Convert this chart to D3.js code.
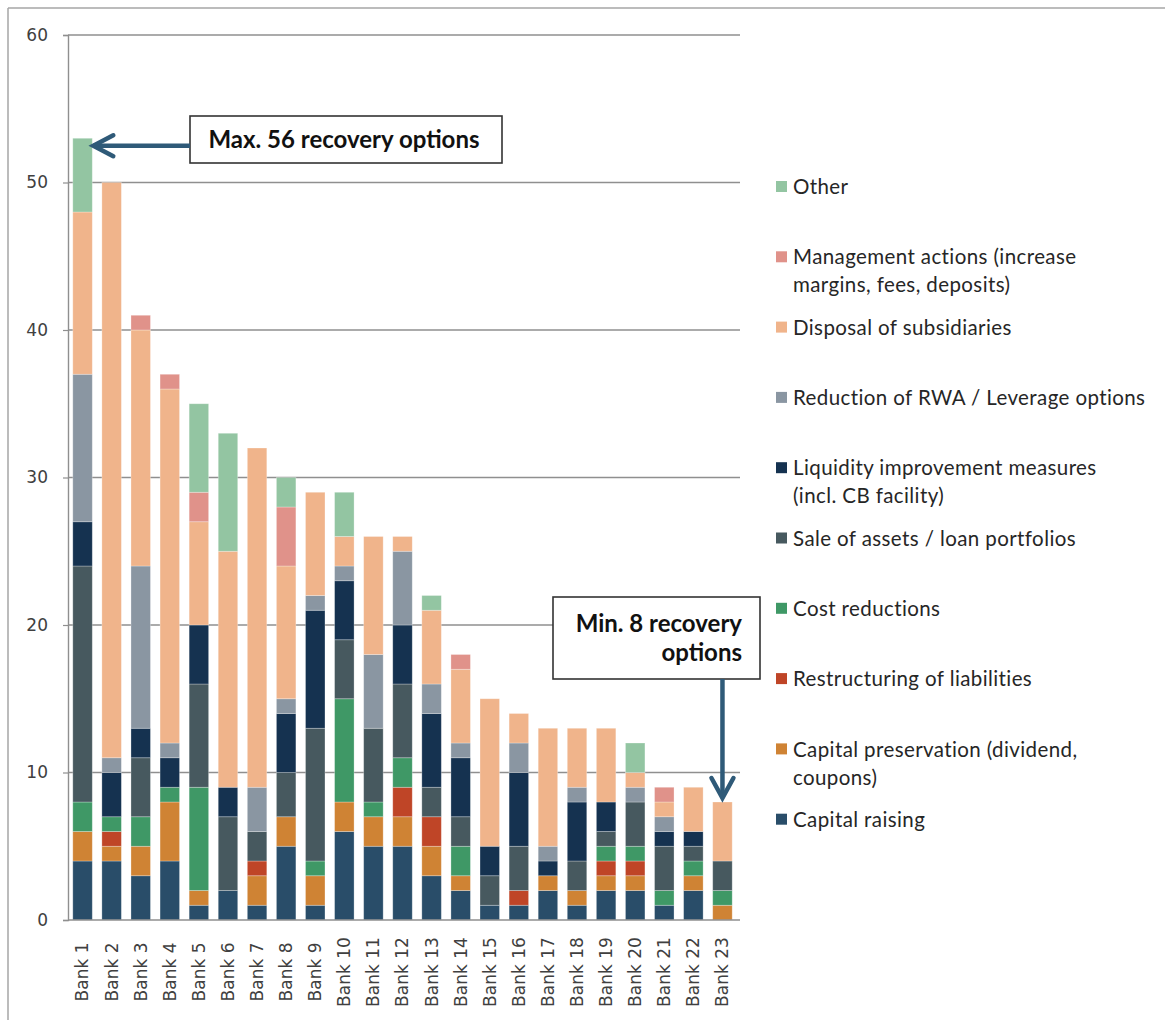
<!DOCTYPE html>
<html>
<head>
<meta charset="utf-8">
<script src="https://cdn.jsdelivr.net/npm/d3@7"></script>
<style>
  html, body { margin: 0; padding: 0; background: #ffffff; }
  svg { display: block; }
</style>
</head>
<body>
<svg id="chart" width="1165" height="1020"></svg>
<script>
// ---------------- DATA ----------------
const banks = ["Bank 1","Bank 2","Bank 3","Bank 4","Bank 5","Bank 6","Bank 7","Bank 8","Bank 9","Bank 10",
  "Bank 11","Bank 12","Bank 13","Bank 14","Bank 15","Bank 16","Bank 17","Bank 18","Bank 19","Bank 20",
  "Bank 21","Bank 22","Bank 23"];

const capitalRaising      = [4,4,3,4,1,2,1,5,1,6,5,5,3,2,1,1,2,1,2,2,1,2,0];
const capitalPreservation = [2,1,2,4,1,0,2,2,2,2,2,2,2,1,0,0,1,1,1,1,0,1,1];
const restructuring       = [0,1,0,0,0,0,1,0,0,0,0,2,2,0,0,1,0,0,1,1,0,0,0];
const costReductions      = [2,1,2,1,7,0,0,0,1,7,1,2,0,2,0,0,0,0,1,1,1,1,1];
const saleOfAssets        = [16,0,4,0,7,5,2,3,9,4,5,5,2,2,2,3,0,2,1,3,3,1,2];
const liquidity           = [3,3,2,2,4,2,0,4,8,4,0,4,5,4,2,5,1,4,2,0,1,1,0];
const rwaReduction        = [10,1,11,1,0,0,3,1,1,1,5,5,2,1,0,2,1,1,0,1,1,0,0];
const disposal            = [11,39,16,24,7,16,23,9,7,2,8,1,5,5,10,2,8,4,5,1,1,3,4];
const management          = [0,0,1,1,2,0,0,4,0,0,0,0,0,1,0,0,0,0,0,0,1,0,0];
const other               = [5,0,0,0,6,8,0,2,0,3,0,0,1,0,0,0,0,0,0,2,0,0,0];

const yTicks = [0,10,20,30,40,50,60];

// series bottom -> top
const seriesKeys   = ["cr","cp","rl","cost","sale","liq","rwa","disp","mgmt","other"];
const seriesValues = [capitalRaising, capitalPreservation, restructuring, costReductions, saleOfAssets,
                      liquidity, rwaReduction, disposal, management, other];
const seriesLabels = [
  ["Capital raising"],
  ["Capital preservation (dividend,", "coupons)"],
  ["Restructuring of liabilities"],
  ["Cost reductions"],
  ["Sale of assets / loan portfolios"],
  ["Liquidity improvement measures", "(incl. CB facility)"],
  ["Reduction of RWA / Leverage options"],
  ["Disposal of subsidiaries"],
  ["Management actions (increase", "margins, fees, deposits)"],
  ["Other"]
];
const seriesColors = ["#294d69","#cf8334","#bf4527","#3f9866","#47595f","#153250","#8a96a2","#f0b48b","#e0928a","#93c5a2"];

const maxLabel = "Max. 56 recovery options";
const minLabel = ["Min. 8 recovery", "options"];

// ---------------- BUILD ----------------
const table = banks.map((b, i) => {
  const row = { bank: b };
  seriesKeys.forEach((k, j) => row[k] = seriesValues[j][i]);
  return row;
});
const stacked = d3.stack().keys(seriesKeys)(table);
const color = d3.scaleOrdinal().domain(seriesKeys).range(seriesColors);

const svg = d3.select("#chart");
const plotLeft = 68, plotRight = 740, plotTop = 35, plotBottom = 920;

const x = d3.scaleBand().domain(banks).range([68, 737]).paddingInner(0.33).paddingOuter(0.165);
const y = d3.scaleLinear().domain([0, 60]).range([plotBottom, plotTop]);

// outer frame (partial, as in the picture)
svg.append("line").attr("x1", 8).attr("x2", 1165).attr("y1", 8).attr("y2", 8)
  .attr("stroke", "#a6a6a6").attr("stroke-width", 1.5);
svg.append("line").attr("x1", 8).attr("x2", 8).attr("y1", 8).attr("y2", 1020)
  .attr("stroke", "#a6a6a6").attr("stroke-width", 1.5);

// gridlines
svg.append("g").selectAll("line").data(yTicks.filter(d => d > 0)).join("line")
  .attr("x1", plotLeft).attr("x2", plotRight)
  .attr("y1", d => y(d)).attr("y2", d => y(d))
  .attr("stroke", "#8f8f8f").attr("stroke-width", 1.4);

// y axis
const yAxis = d3.axisLeft(y).tickValues(yTicks).tickSize(5).tickPadding(15);
const yg = svg.append("g").attr("transform", `translate(${plotLeft},0)`).call(yAxis);
yg.select(".domain").attr("stroke", "#8f8f8f").attr("stroke-width", 1.4);
yg.selectAll(".tick line").attr("stroke", "#8f8f8f").attr("stroke-width", 1.2);
yg.selectAll(".tick text").attr("font-family", "DejaVu Sans").attr("font-size", 17).attr("fill", "#404040");

// bars
svg.append("g").selectAll("g").data(stacked).join("g")
  .attr("fill", d => color(d.key))
  .selectAll("rect").data(d => d.filter(s => s[1] > s[0])).join("rect")
  .attr("x", d => x(d.data.bank))
  .attr("width", x.bandwidth())
  .attr("y", d => y(d[1]))
  .attr("height", d => y(d[0]) - y(d[1]))
  .attr("stroke", "#ffffff").attr("stroke-opacity", 0.35).attr("stroke-width", 0.8);

// x axis baseline
const xAxis = d3.axisBottom(x).tickSize(0).tickPadding(0);
const xg = svg.append("g").attr("transform", `translate(0,${plotBottom})`).call(xAxis);
xg.select(".domain").attr("stroke", "#8f8f8f").attr("stroke-width", 1.4)
  .attr("d", `M${plotLeft},0H${plotRight}`);
xg.selectAll(".tick text")
  .attr("font-family", "DejaVu Sans").attr("font-size", 17).attr("fill", "#404040")
  .attr("text-anchor", "middle")
  .attr("transform", "translate(0,52) rotate(-90)")
  .attr("dy", "0.35em").attr("y", 0);

// legend (top to bottom: Other ... Capital raising)
const legendOrder = d3.range(seriesKeys.length).reverse();
const lg = svg.append("g").attr("font-family", "Lato").attr("font-size", 20.5)
  .attr("letter-spacing", 0.4).attr("fill", "#262626");
legendOrder.forEach((si, idx) => {
  const cy = 187 + idx * 70.3;
  lg.append("rect").attr("x", 776).attr("y", cy - 6).attr("width", 11).attr("height", 11)
    .attr("fill", seriesColors[si]);
  seriesLabels[si].forEach((line, li) => {
    lg.append("text").attr("x", 793).attr("y", cy + li * 28).attr("dy", "0.35em").text(line);
  });
});

// annotations
const arrowColor = "#2f5a78";
// Max box
svg.append("rect").attr("x", 190).attr("y", 116).attr("width", 312).attr("height", 47)
  .attr("fill", "#fff").attr("stroke", "#333").attr("stroke-width", 1.6);
svg.append("text").attr("x", 344).attr("y", 140).attr("dy", "0.35em")
  .attr("text-anchor", "middle").attr("font-family", "Lato").attr("font-weight", "bold")
  .attr("font-size", 24).attr("fill", "#111").text(maxLabel);
const topBank1 = y(d3.sum(seriesValues, s => s[0]));
const tipX = x(banks[0]) + x.bandwidth();
svg.append("path").attr("d", `M190,${topBank1 + 7.5}H${tipX + 1}`)
  .attr("stroke", arrowColor).attr("stroke-width", 4.5).attr("fill", "none");
svg.append("path").attr("d", `M${tipX + 21},${topBank1 - 3}L${tipX + 1},${topBank1 + 7.5}L${tipX + 21},${topBank1 + 18}`)
  .attr("stroke", arrowColor).attr("stroke-width", 4.5).attr("fill", "none")
  .attr("stroke-linecap", "round").attr("stroke-linejoin", "miter");

// Min box
svg.append("rect").attr("x", 553).attr("y", 597).attr("width", 207).attr("height", 82)
  .attr("fill", "#fff").attr("stroke", "#333").attr("stroke-width", 1.6);
minLabel.forEach((line, i) => {
  svg.append("text").attr("x", 742).attr("y", 624 + i * 29).attr("dy", "0.35em")
    .attr("text-anchor", "end").attr("font-family", "Lato").attr("font-weight", "bold")
    .attr("font-size", 24).attr("fill", "#111").text(line);
});
const lastX = x(banks[22]) + x.bandwidth() / 2;
const topLast = y(d3.sum(seriesValues, s => s[22]));
svg.append("path").attr("d", `M${lastX},679V${topLast - 4}`)
  .attr("stroke", arrowColor).attr("stroke-width", 4.5).attr("fill", "none");
svg.append("path").attr("d", `M${lastX - 11},${topLast - 24}L${lastX},${topLast - 4}L${lastX + 11},${topLast - 24}`)
  .attr("stroke", arrowColor).attr("stroke-width", 4.5).attr("fill", "none").attr("stroke-linecap", "round");
</script>
</body>
</html>
